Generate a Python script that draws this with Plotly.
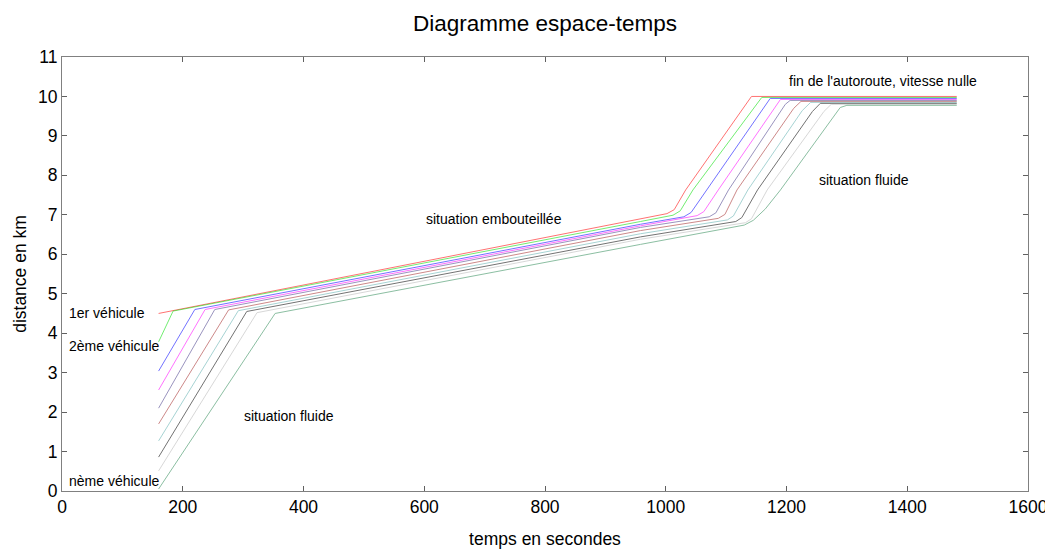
import plotly.graph_objects as go

# ---- data (time in s, distance in km) ----
vehicle_names = ["1er véhicule", "2ème véhicule", "3ème véhicule", "4ème véhicule", "5ème véhicule",
                 "6ème véhicule", "7ème véhicule", "8ème véhicule", "9ème véhicule", "nème véhicule"]

t_v1 = [160, 958, 1002, 1014, 1033, 1142, 1482]
d_v1 = [4.50, 6.91, 7.03, 7.13, 7.63, 10.00, 10.00]

t_v2 = [160, 184, 958, 1012, 1024, 1045, 1159, 1482]
d_v2 = [3.78, 4.56, 6.83, 6.99, 7.10, 7.63, 9.975, 9.975]

t_v3 = [160, 220, 958, 1030, 1042, 1068, 1173, 1482]
d_v3 = [3.04, 4.60, 6.76, 6.95, 7.06, 7.63, 9.95, 9.95]

t_v4 = [160, 237, 958, 1052, 1063, 1087, 1190, 1482]
d_v4 = [2.56, 4.60, 6.72, 6.98, 7.08, 7.63, 9.925, 9.925]

t_v5 = [160, 253, 958, 1072, 1083, 1104, 1198, 1206, 1482]
d_v5 = [2.10, 4.60, 6.68, 6.95, 7.05, 7.63, 9.80, 9.90, 9.90]

t_v6 = [160, 276, 958, 1087, 1098, 1118, 1212, 1224, 1482]
d_v6 = [1.70, 4.59, 6.60, 6.91, 7.01, 7.63, 9.70, 9.875, 9.875]

t_v7 = [160, 292, 958, 1102, 1112, 1136, 1226, 1240, 1482]
d_v7 = [1.27, 4.57, 6.52, 6.87, 6.97, 7.63, 9.64, 9.85, 9.85]

t_v8 = [160, 306, 958, 1116, 1126, 1152, 1243, 1256, 1482]
d_v8 = [0.86, 4.55, 6.44, 6.83, 6.93, 7.63, 9.62, 9.825, 9.825]

t_v9 = [160, 323, 958, 1132, 1142, 1168, 1262, 1274, 1482]
d_v9 = [0.51, 4.52, 6.38, 6.80, 6.90, 7.63, 9.62, 9.80, 9.80]

t_v10 = [160, 353, 958, 1130, 1145, 1165, 1190, 1275, 1289, 1300, 1482]
d_v10 = [0.05, 4.50, 6.25, 6.74, 6.86, 7.15, 7.63, 9.40, 9.72, 9.775, 9.775]

x_ticks = [0, 200, 400, 600, 800, 1000, 1200, 1400, 1600]
y_ticks = [0, 1, 2, 3, 4, 5, 6, 7, 8, 9, 10, 11]

# ---- styles ----
line_colors = ["#ff0000", "#00e000", "#0000ff", "#ff00ff", "#483d8b",
               "#a52a2a", "#5fb0b0", "#000000", "#b8b8b8", "#2e8b57"]
FONT = "Liberation Sans, Arial, sans-serif"

series_t = [t_v1, t_v2, t_v3, t_v4, t_v5, t_v6, t_v7, t_v8, t_v9, t_v10]
series_d = [d_v1, d_v2, d_v3, d_v4, d_v5, d_v6, d_v7, d_v8, d_v9, d_v10]

fig = go.Figure()
for name, tt, dd, col in zip(vehicle_names, series_t, series_d, line_colors):
    fig.add_trace(go.Scatter(x=tt, y=dd, mode="lines", name=name,
                             line=dict(color=col, width=1), opacity=0.55,
                             showlegend=False, hoverinfo="skip"))

ann_font = dict(family=FONT, size=14, color="black")
annotations = [
    ("1er véhicule", 8, 4.51),
    ("2ème véhicule", 8, 3.68),
    ("nème véhicule", 8, 0.25),
    ("situation fluide", 298, 1.90),
    ("situation embouteillée", 599, 6.90),
    ("fin de l'autoroute, vitesse nulle", 1200, 10.39),
    ("situation fluide", 1250, 7.88),
]
for txt, x, y in annotations:
    fig.add_annotation(x=x, y=y, text=txt, showarrow=False, xanchor="left",
                       yanchor="middle", font=ann_font)

axis_common = dict(showgrid=False, zeroline=False, showline=True, linecolor="#808080",
                   linewidth=1, mirror="ticks", ticks="inside", ticklen=5,
                   tickcolor="#606060", automargin=False,
                   tickfont=dict(family=FONT, size=17.5, color="black"))

# the page body adds an 8 px offset, so the figure is 8 px smaller each way
W, H = 1045, 552
fig.update_layout(
    width=W, height=H,
    paper_bgcolor="white", plot_bgcolor="white",
    margin=dict(l=54, r=25, t=49, b=69),
    title=dict(text="Diagramme espace-temps", x=537 / W, xanchor="center",
               yref="container", y=1 - 15 / H, yanchor="middle",
               font=dict(family=FONT, size=22.5, color="black")),
    xaxis=dict(range=[0, 1600], tickvals=x_ticks, ticktext=[str(v) for v in x_ticks],
               title=dict(text="temps en secondes", standoff=16,
                          font=dict(family=FONT, size=17.5, color="black")),
               **axis_common),
    yaxis=dict(range=[0, 11], tickvals=y_ticks, ticktext=[str(v) for v in y_ticks],
               title=dict(text="distance en km", standoff=6,
                          font=dict(family=FONT, size=17.5, color="black")),
               **axis_common),
)

fig.write_html("out.html")
